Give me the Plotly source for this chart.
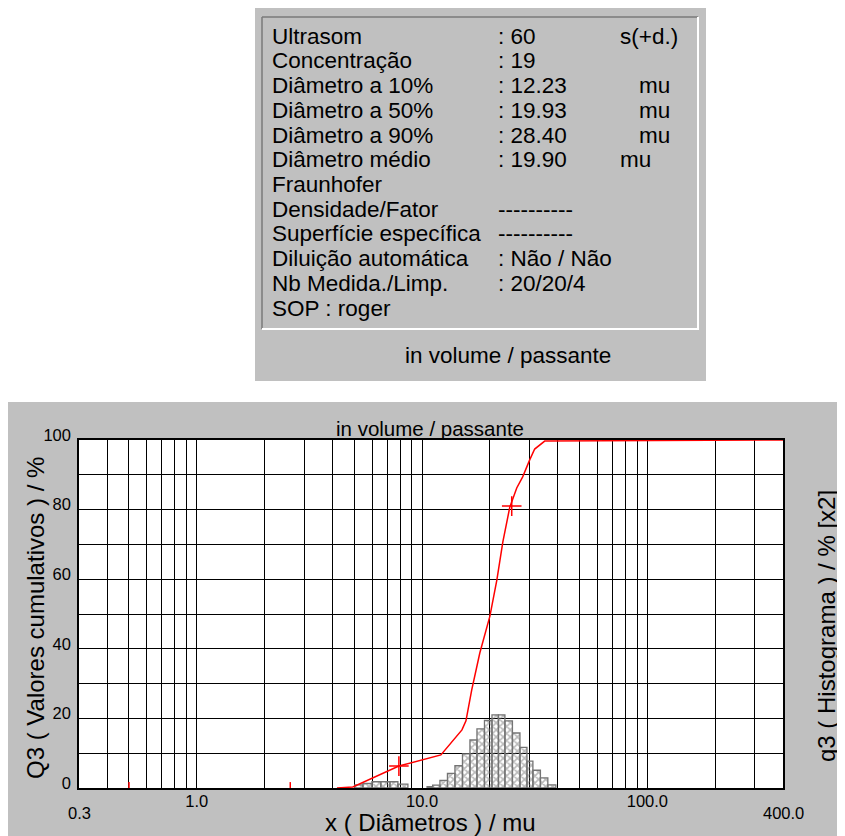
import numpy as np
import plotly.graph_objects as go

# ---------------- data ----------------
info_labels = ["Ultrasom", "Concentração", "Diâmetro a 10%", "Diâmetro a 50%",
               "Diâmetro a 90%", "Diâmetro médio", "Fraunhofer", "Densidade/Fator",
               "Superfície específica", "Diluição automática", "Nb Medida./Limp.",
               "SOP : roger"]
info_values = [": 60", ": 19", ": 12.23", ": 19.93", ": 28.40", ": 19.90", "",
               "----------", "----------", ": Não / Não", ": 20/20/4", ""]
info_units = ["s(+d.)", "", "mu", "mu", "mu", "mu", "", "", "", "", "", ""]
subtitle = "in volume / passante"

# cumulative curve Q3 (%)
cum_x = [4.19, 4.93, 7.89, 11.62, 12.12, 15.03, 15.66, 16.61, 18.04, 20.00, 21.48,
         22.83, 24.51, 26.31, 27.96, 30.04, 31.61, 35.02, 400.0]
cum_y = [0.0, 0.3, 6.3, 9.2, 9.5, 16.7, 19.3, 28.2, 38.8, 49.4, 59.8,
         70.7, 80.7, 86.2, 89.4, 94.3, 97.4, 99.7, 100.0]
cross_x = [7.89, 25.0]
cross_y = [6.3, 81.0]
red_tick_x = [0.5, 2.6]
red_tick_h = 1.7

# histogram q3 (bins: edges, heights)
hist_edges_a = [5.03, 5.46, 5.99, 6.56, 7.20, 7.81, 8.65]
hist_h_a = [0.9, 1.3, 1.8, 1.8, 1.8, 1.1]
hist_edges_b = [10.52, 11.14, 12.0, 12.96, 13.99, 15.11, 16.31, 17.52, 18.92, 20.43,
                21.83, 23.32, 25.18, 27.19, 29.21, 31.04, 33.52, 36.16, 39.25]
hist_h_b = [0.4, 0.8, 2.2, 4.2, 6.4, 9.8, 13.8, 17.0, 19.4, 21.0, 21.0, 19.3,
            15.8, 11.7, 7.7, 5.1, 2.9, 0.9]

x_grid = [0.3, 0.4, 0.5, 0.6, 0.7, 0.8, 0.9, 1, 2, 3, 4, 5, 6, 7, 8, 9,
          10, 20, 30, 40, 50, 60, 70, 80, 90, 100, 200, 300, 400]
x_labels = {1: "1.0", 10: "10.0", 100: "100.0"}
x_end_labels = [(0.3, "0.3"), (400, "400.0")]
y_grid = list(range(0, 101, 10))
y_labels = {0: "0", 20: "20", 40: "40", 60: "60", 80: "80", 100: "100"}

# ---------------- layout helpers (target-page pixel coordinates) ----------------
TW, TH = 845, 836          # page size
OFF = 8                    # page body margin
PL, PR, PT, PB = 79, 783, 440, 788   # plot area in page pixels
W, H = TW - OFF, TH - OFF
PW, PH = PR - PL, PB - PT


def px(xp):
    return (xp - PL) / PW


def py(yp):
    return (PB - yp) / PH


FONT = "Liberation Sans, Arial, sans-serif"
GRAY = "#c0c0c0"

fig = go.Figure()

# histogram polygons
hx, hy = [], []
for edges, hs in ((hist_edges_a, hist_h_a), (hist_edges_b, hist_h_b)):
    for i, h in enumerate(hs):
        l, r = edges[i], edges[i + 1]
        hx += [l, l, r, r, l, None]
        hy += [0, h, h, 0, 0, None]
fig.add_trace(go.Scatter(
    x=hx, y=hy, mode="lines", fill="toself",
    line=dict(color="#747474", width=1.3),
    fillcolor="rgba(0,0,0,0)",
    fillpattern=dict(shape="x", fgcolor="#747474", bgcolor="rgba(255,255,255,0)",
                     size=5, solidity=0.55),
    hoverinfo="skip", showlegend=False))

# red ticks at the base
tx, ty = [], []
for v in red_tick_x:
    tx += [v, v, None]
    ty += [0, red_tick_h, None]
fig.add_trace(go.Scatter(x=tx, y=ty, mode="lines", line=dict(color="red", width=1.5),
                         showlegend=False, hoverinfo="skip"))

# cumulative curve
fig.add_trace(go.Scatter(x=cum_x, y=cum_y, mode="lines",
                         line=dict(color="red", width=1.5), showlegend=False))
fig.add_trace(go.Scatter(x=cross_x, y=cross_y, mode="markers",
                         marker=dict(symbol="cross-thin", size=14,
                                     line=dict(color="red", width=1.5)),
                         showlegend=False))

shapes = [
    # chart panel
    dict(type="rect", xref="paper", yref="paper", x0=px(7), x1=px(TW + 2),
         y0=py(TH + 2), y1=py(402), fillcolor=GRAY, line=dict(width=0), layer="below"),
    # plot area white
    dict(type="rect", xref="paper", yref="paper", x0=0, x1=1, y0=0, y1=1,
         fillcolor="white", line=dict(width=0), layer="below"),
    # info panel
    dict(type="rect", xref="paper", yref="paper", x0=px(255), x1=px(706),
         y0=py(381), y1=py(8), fillcolor=GRAY, line=dict(width=0), layer="below"),
    # sunken border
    dict(type="line", xref="paper", yref="paper", x0=px(262), x1=px(698),
         y0=py(17), y1=py(17), line=dict(color="#7a7a7a", width=1.5)),
    dict(type="line", xref="paper", yref="paper", x0=px(262), x1=px(262),
         y0=py(17), y1=py(329), line=dict(color="#7a7a7a", width=1.5)),
    dict(type="line", xref="paper", yref="paper", x0=px(262), x1=px(699),
         y0=py(329), y1=py(329), line=dict(color="white", width=2)),
    dict(type="line", xref="paper", yref="paper", x0=px(698), x1=px(698),
         y0=py(17), y1=py(329), line=dict(color="white", width=2)),
]

ann = []
row0, dy = 36, 24.75
unit_px = [618, 0, 637, 637, 637, 618, 0, 0, 0, 0, 0, 0]
for i, lab in enumerate(info_labels):
    yy = py(row0 + i * dy)
    ann.append(dict(text=lab, x=px(270), y=yy, xref="paper", yref="paper",
                    xanchor="left", yanchor="middle", showarrow=False,
                    font=dict(size=22.5, family=FONT, color="black")))
    if info_values[i]:
        ann.append(dict(text=info_values[i], x=px(496), y=yy, xref="paper", yref="paper",
                        xanchor="left", yanchor="middle", showarrow=False,
                        font=dict(size=22.5, family=FONT, color="black")))
    if info_units[i]:
        ann.append(dict(text=info_units[i], x=px(unit_px[i]), y=yy, xref="paper",
                        yref="paper", xanchor="left", yanchor="middle", showarrow=False,
                        font=dict(size=22.5, family=FONT, color="black")))
ann.append(dict(text=subtitle, x=px(508), y=py(355), xref="paper", yref="paper",
                xanchor="center", yanchor="middle", showarrow=False,
                font=dict(size=22.5, family=FONT, color="black")))
ann.append(dict(text=subtitle, x=px(430), y=py(428), xref="paper", yref="paper",
                xanchor="center", yanchor="middle", showarrow=False,
                font=dict(size=20.5, family=FONT, color="black")))
for v, t in x_end_labels:
    ann.append(dict(text=t, x=np.log10(v), y=py(813), xref="x", yref="paper",
                    xanchor="center", yanchor="middle", showarrow=False,
                    font=dict(size=16.5, family=FONT, color="black")))
ann.append(dict(text="x ( Diâmetros ) / mu", x=px(430), y=py(822), xref="paper",
                yref="paper", xanchor="center", yanchor="middle", showarrow=False,
                font=dict(size=24, family=FONT, color="black")))
ann.append(dict(text="Q3 ( Valores cumulativos ) / %", x=px(35), y=py(618),
                xref="paper", yref="paper", xanchor="center", yanchor="middle",
                textangle=-90, showarrow=False,
                font=dict(size=24, family=FONT, color="black")))
ann.append(dict(text="q3 ( Histograma ) / % [x2]", x=px(826), y=py(626),
                xref="paper", yref="paper", xanchor="center", yanchor="middle",
                textangle=-90, showarrow=False,
                font=dict(size=24, family=FONT, color="black")))

fig.update_layout(
    width=W, height=H,
    margin=dict(l=PL - OFF, r=TW - PR, t=PT - OFF, b=TH - PB, pad=0),
    paper_bgcolor="white", plot_bgcolor="white",
    shapes=shapes, annotations=ann, showlegend=False,
    font=dict(family=FONT, size=16.5, color="black"),
    xaxis=dict(type="log", range=[np.log10(0.3), np.log10(400)],
               tickvals=x_grid, ticktext=[x_labels.get(v, "") for v in x_grid],
               showgrid=True, gridcolor="black", gridwidth=1,
               showline=True, linecolor="black", linewidth=2, mirror=True,
               ticks="", zeroline=False, layer="below traces",
               ticklabelstandoff=-3,
               tickfont=dict(size=16.5, family=FONT, color="black")),
    yaxis=dict(range=[0, 100], tickvals=y_grid,
               ticktext=[y_labels.get(v, "") for v in y_grid],
               showgrid=True, gridcolor="black", gridwidth=1,
               showline=True, linecolor="black", linewidth=1.5, mirror=True,
               ticks="", zeroline=False, layer="below traces",
               ticklabelshift=-5, ticklabelstandoff=3,
               tickfont=dict(size=16.5, family=FONT, color="black")),
)

fig.write_html("out.html")
